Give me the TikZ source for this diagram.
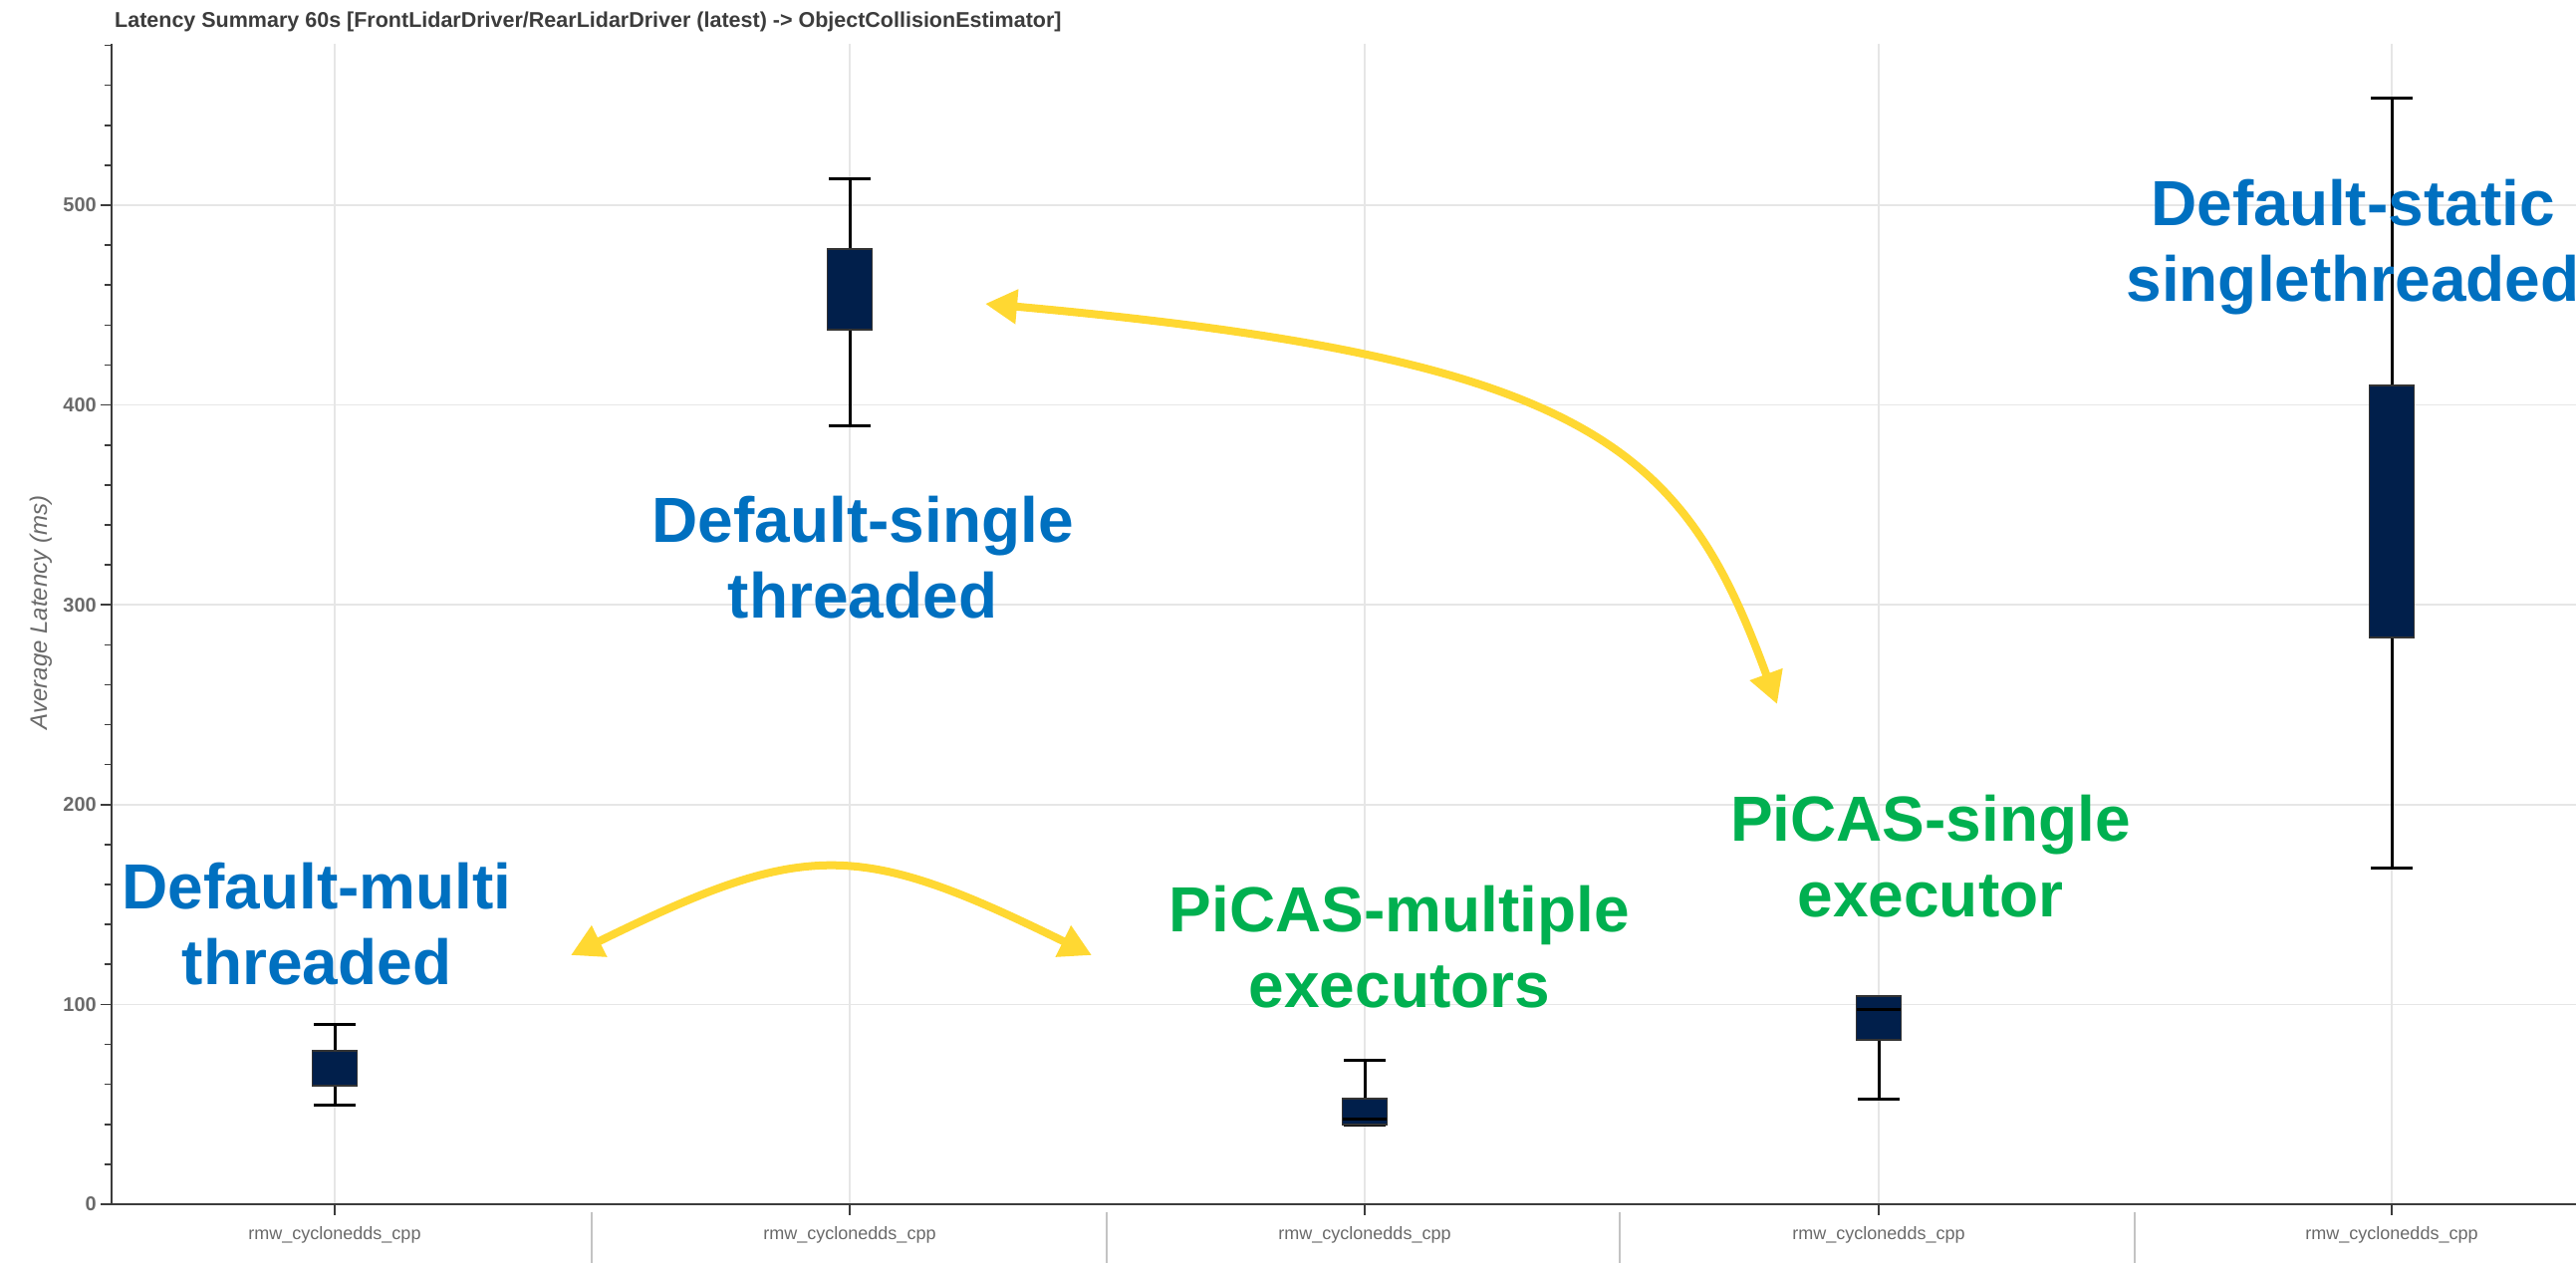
\documentclass[tikz,border=0pt]{standalone}
\usepackage{fontspec}
\setmainfont{Liberation Sans}
\usetikzlibrary{arrows.meta}
\definecolor{gridc}{HTML}{E6E6E6}
\definecolor{axisc}{HTML}{3C3C3C}
\definecolor{labc}{HTML}{6A6A6A}
\definecolor{boxfill}{HTML}{011F4B}
\definecolor{anblue}{HTML}{0070C0}
\definecolor{angreen}{HTML}{00B050}
\definecolor{arrowc}{HTML}{FFD832}
\tikzset{
  gridline/.style={draw=gridc, line width=1.6pt},
  axisline/.style={draw=axisc, line width=2.6pt},
  tickline/.style={draw=axisc, line width=1.6pt},
  sepline/.style={draw=gridc!85!black, line width=2.4pt},
  whisk/.style={draw=black, line width=3pt},
  boxst/.style={fill=boxfill, draw=black!80, line width=1.4pt},
  medline/.style={draw=black, line width=3pt},
  ticklab/.style={anchor=east, text=labc, inner sep=0pt, font=\fontsize{20}{24}\selectfont\bfseries},
  catlab/.style={anchor=center, text=labc, inner sep=0pt, font=\fontsize{18}{21}\selectfont},
  note/.style={align=center, inner sep=0pt, anchor=center, font=\fontsize{64}{76}\selectfont\bfseries},
  hint/.style={draw=arrowc, line width=8pt,
    {Triangle[length=32pt,width=33pt]}-{Triangle[length=32pt,width=33pt]}},
}
% one box-and-whisker glyph: x, upper whisker, upper quartile, lower quartile, lower whisker
\newcommand\bxglyph[5]{%
  \draw[whisk] (#1,#2) -- (#1,#3) (#1,#4) -- (#1,#5);
  \draw[whisk] (#1-21,#2) -- (#1+21,#2) (#1-21,#5) -- (#1+21,#5);
  \filldraw[boxst] (#1-22.5,#3) rectangle (#1+22.5,#4);
}
\begin{document}
\begin{tikzpicture}[x=1pt,y=-1pt]
\useasboundingbox[fill=white] (0,0) rectangle (2586,1268);

% title
\node[anchor=base west, inner sep=0pt, text=axisc, font=\fontsize{21.5}{25}\selectfont\bfseries] (title) at (115,28)
  {Latency Summary 60s [FrontLidarDriver/RearLidarDriver (latest) -> ObjectCollisionEstimator]};

% grid
\foreach \v in {1,...,5} {
  \draw[gridline] (113,1209-200.6*\v) -- (2586,1209-200.6*\v);
}
\foreach \cx in {336,853,1370,1886,2401} {
  \draw[gridline] (\cx,44) -- (\cx,1208);
}

% y axis with major and minor ticks
\draw[axisline] (112,44) -- (112,1210);
\foreach \v in {0,20,...,580} {
  \draw[tickline] (105,1209-2.006*\v) -- (112,1209-2.006*\v);
}
\foreach \v in {0,100,...,500} {
  \draw[tickline] (101,1209-2.006*\v) -- (112,1209-2.006*\v);
}
\node[ticklab] (t0) at (97,1209) {0};
\node[ticklab] (t1) at (97,1008.4) {100};
\node[ticklab] (t2) at (97,807.8) {200};
\node[ticklab] (t3) at (97,607.2) {300};
\node[ticklab] (t4) at (97,406.6) {400};
\node[ticklab] (t5) at (97,206) {500};
\node[rotate=90, text=labc, inner sep=0pt, font=\fontsize{24}{28}\selectfont\itshape] (ylab) at (41,615)
  {Average Latency (ms)};

% x axis, category ticks, separators and labels
\draw[axisline] (111,1209) -- (2586,1209);
\foreach \cx in {336,853,1370,1886,2401} {
  \draw[tickline] (\cx,1209) -- (\cx,1220);
}
\foreach \sx in {594,1111,1626,2143} {
  \draw[sepline] (\sx,1217) -- (\sx,1268);
}
\node[catlab] (c1) at (336,1240) {rmw\_cyclonedds\_cpp};
\node[catlab] (c2) at (853,1240) {rmw\_cyclonedds\_cpp};
\node[catlab] (c3) at (1370,1240) {rmw\_cyclonedds\_cpp};
\node[catlab] (c4) at (1886,1240) {rmw\_cyclonedds\_cpp};
\node[catlab] (c5) at (2401,1240) {rmw\_cyclonedds\_cpp};

% box plots
\bxglyph{336}{1028}{1055}{1090}{1109}
\bxglyph{853}{180}{250}{331}{427}
\bxglyph{1370}{1064}{1103}{1129}{1129}
\draw[medline] (1348,1123) -- (1392,1123);
\bxglyph{1886}{1000}{1000}{1044}{1103}
\draw[medline] (1864,1013) -- (1908,1013);
\bxglyph{2401}{99}{387}{640}{871}

% annotations
\node[note, text=anblue] (dsingle) at (866,560) {Default-single\\threaded};
\node[note, text=anblue] (dmulti) at (318,928) {Default-multi\\threaded};
\node[note, text=angreen] (pmulti) at (1405,951) {PiCAS-multiple\\executors};
\node[note, text=angreen] (psingle) at (1938,860) {PiCAS-single\\executor};
\node[note, text=anblue] (dstatic) at (2362,248) {Default-static\\singlethreaded};

% comparison arrows
\coordinate (mleft) at (573,959);
\coordinate (mright) at (1096,959);
\coordinate (sleft) at (989,305);
\coordinate (sright) at (1784,707);
\draw[hint] (mleft) .. controls (809,843) and (860,843) .. (mright);
\draw[hint] (sleft) .. controls (1600,360) and (1690,450) .. (sright);
\end{tikzpicture}
\end{document}
